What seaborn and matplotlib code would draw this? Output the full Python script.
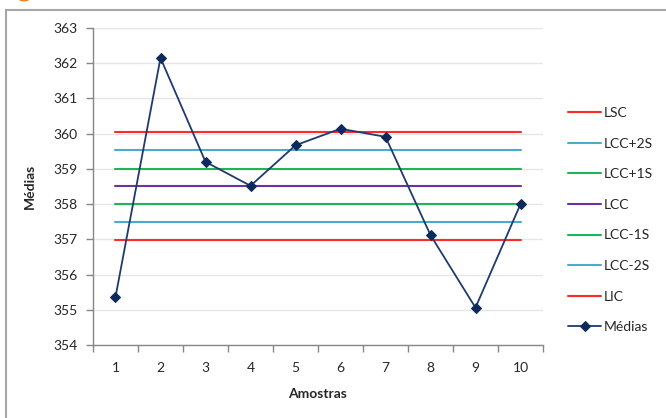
import matplotlib
matplotlib.use("Agg")
import matplotlib.pyplot as plt
from matplotlib.patches import Rectangle, Circle
import seaborn as sns
import pandas as pd

# Sample numbers and the sample means
amostras = [1, 2, 3, 4, 5, 6, 7, 8, 9, 10]
medias = [355.36, 362.15, 359.20, 358.52, 359.67, 360.14, 359.91, 357.12, 355.06, 358.00]

# Control limits (centre line +/- 1, 2 and 3 standard deviations)
limite_nomes = ["LSC", "LCC+2S", "LCC+1S", "LCC", "LCC-1S", "LCC-2S", "LIC"]
limite_valores = [360.04, 359.53, 359.01, 358.51, 358.00, 357.49, 356.98]
limite_cores = ["#FF2B2B", "#4BACC6", "#1FB45A", "#7030A0", "#1FB45A", "#4BACC6", "#FF2B2B"]

y_ticks = [354, 355, 356, 357, 358, 359, 360, 361, 362, 363]

sns.set_theme(style="white")
plt.rcParams["font.family"] = ["Lato", "DejaVu Sans"]

fig = plt.figure(figsize=(6.66, 4.18), dpi=100)
ax = fig.add_axes([93 / 666, 73 / 418, 450 / 666, 317 / 418])

# horizontal gridlines
for v in y_ticks:
    ax.axhline(v, color="#E6E6E6", lw=1.0, zorder=0)

df_lim = pd.DataFrame({
    "Amostra": amostras * len(limite_nomes),
    "Valor": [v for v in limite_valores for _ in amostras],
    "Limite": [n for n in limite_nomes for _ in amostras],
})
for nome, cor in zip(limite_nomes, limite_cores):
    sub = df_lim[df_lim["Limite"] == nome]
    sns.lineplot(data=sub, x="Amostra", y="Valor", color=cor, lw=1.5,
                 label=nome, ax=ax, zorder=2)

df_med = pd.DataFrame({"Amostra": amostras, "Média": medias})
sns.lineplot(data=df_med, x="Amostra", y="Média", color="#1F3A6E", lw=1.3,
             marker="D", markersize=5, markeredgecolor="#0E2A5C",
             markerfacecolor="#0E2A5C", label="Médias", ax=ax, zorder=3)

ax.set_xlim(0.5, 10.5)
ax.set_ylim(354, 363)
ax.set_yticks(y_ticks)
ax.set_yticklabels([str(v) for v in y_ticks], fontsize=10, color="#262626")
ax.set_xticks(amostras)
ax.set_xticklabels([str(v) for v in amostras], fontsize=10, color="#262626")
ax.set_xticks([i + 0.5 for i in range(0, 11)], minor=True)
ax.tick_params(axis="x", which="major", length=0, pad=12)
ax.tick_params(axis="x", which="minor", length=5, width=1, color="#868686",
               direction="out", bottom=True)
ax.tick_params(axis="y", which="major", length=5, width=1, color="#868686",
               direction="out", left=True, pad=6)

for s in ["top", "right"]:
    ax.spines[s].set_visible(False)
for s in ["left", "bottom"]:
    ax.spines[s].set_color("#868686")
    ax.spines[s].set_linewidth(1.0)

ax.set_xlabel("Amostras", fontsize=10, fontweight="bold", color="#262626", labelpad=10)
ax.set_ylabel("Médias", fontsize=10, fontweight="bold", color="#262626", labelpad=13)

leg = ax.legend(loc="upper left", bbox_to_anchor=(568 / 666, 1 - 107 / 418),
                bbox_transform=fig.transFigure, frameon=False, fontsize=10,
                handlelength=2.4, handletextpad=0.15, labelspacing=1.34,
                borderpad=0, borderaxespad=0)
for t in leg.get_texts():
    t.set_color("#262626")

# chart frame and the corner badge
fig.patches.append(Rectangle((6 / 666, -0.1), 1.2, 1 - 10 / 418 + 0.1,
                             transform=fig.transFigure, fill=False,
                             edgecolor="#A6A6A6", lw=1.5))
fig.patches.append(Circle((24 / 666, 1 + 3 / 418), 6 / 666,
                          transform=fig.transFigure, color="#F58220"))

fig.savefig("out.png", dpi=100)
